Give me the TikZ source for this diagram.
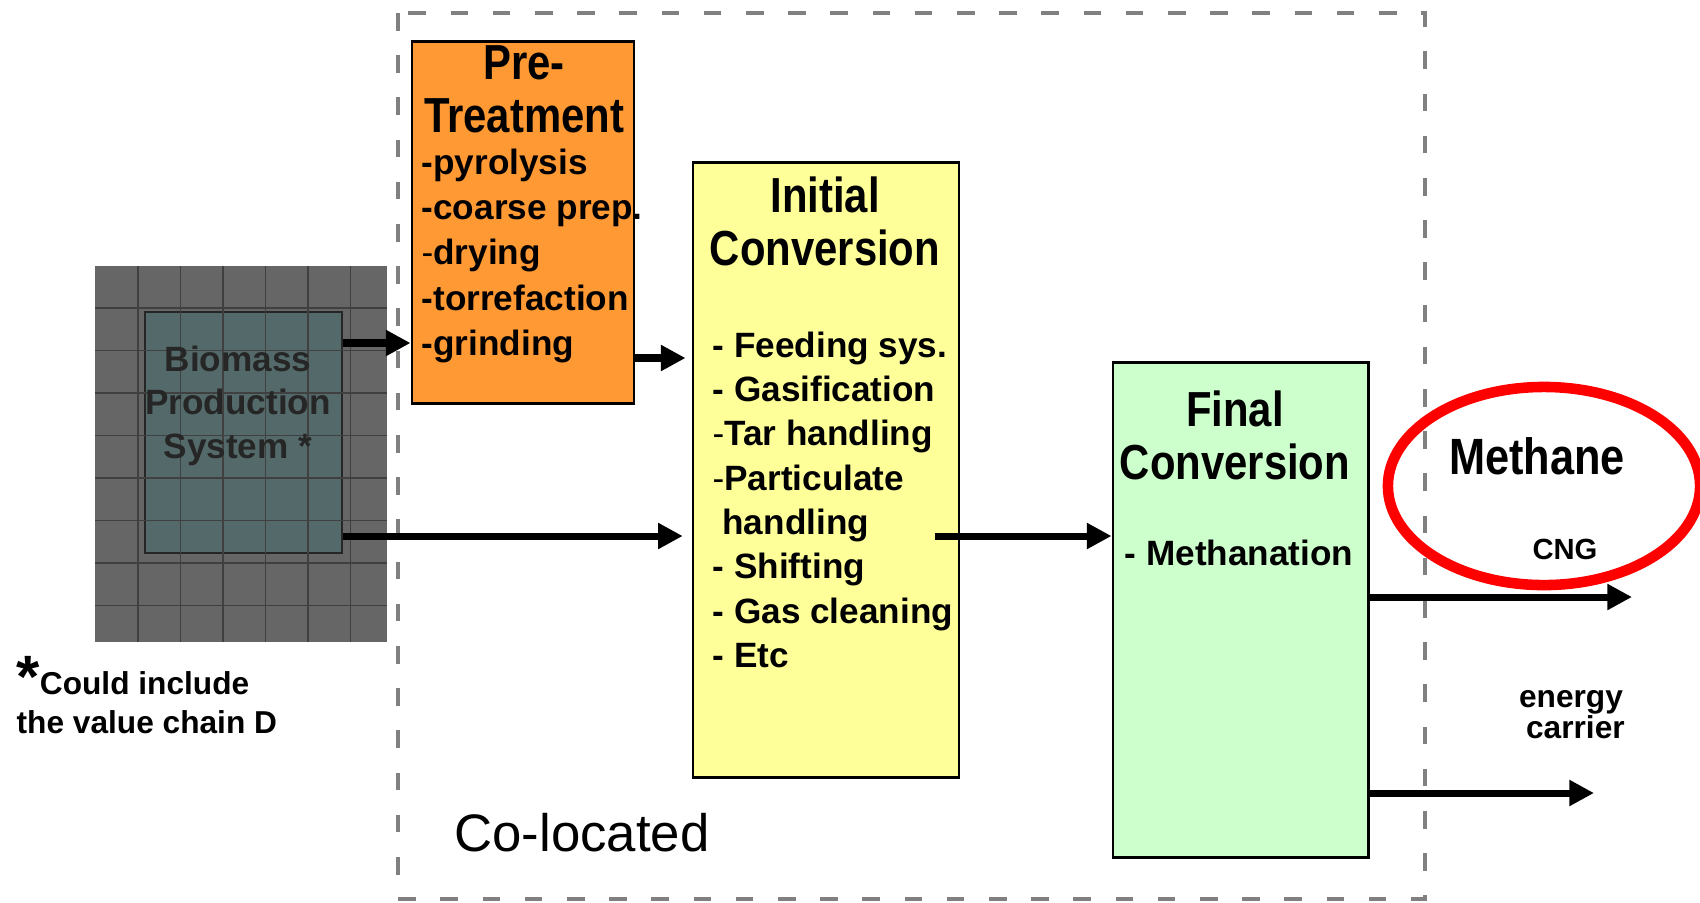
\documentclass[tikz,border=0pt]{standalone}
\usepackage{fontspec}
\setmainfont{Liberation Sans}
\newfontfamily\headfont{Liberation Sans}[FakeStretch=0.85]
\usetikzlibrary{arrows.meta,positioning}
\definecolor{preOrange}{HTML}{FF9933}
\definecolor{initYellow}{HTML}{FFFF99}
\definecolor{finGreen}{HTML}{CCFFCC}
\definecolor{bioTeal}{RGB}{84,106,106}
\definecolor{ringRed}{HTML}{FF0000}

\begin{document}
\begin{tikzpicture}[x=0.01cm, y=-0.01cm,
    stage/.style={draw, line width=0.8pt, inner sep=0},
    head/.style={anchor=north, inner sep=0, align=center, font=\headfont\bfseries\fontsize{14}{15}\selectfont},
    items/.style={anchor=north west, inner sep=0, align=left, font=\bfseries\fontsize{10}{12.6}\selectfont},
    flow/.style={line width=2pt, -{Triangle[length=7pt, width=7pt]}},
    gridline/.style={black!75, line width=0.5pt}]
    \useasboundingbox (0,0) rectangle (1700,902);

    % co-located site
    \draw[black!50, line width=0.9pt, dash pattern=on 5pt off 7pt] (398,13) rectangle (1425,899);
    \node[font=\fontsize{15}{18}\selectfont] (coloc) at (582,833) {Co-located};

    % biomass production
    \fill[black!60] (95,266) rectangle (387,642);
    \node[stage, fill=bioTeal, draw=black!85, line width=0.6pt, minimum width=1.97cm, minimum height=2.41cm] (bio) at (243.5,432.5) {};
    \foreach \gx in {138,180.5,...,387} \draw[gridline] (\gx,266) -- (\gx,642);
    \foreach \gy in {308,350.5,...,642} \draw[gridline] (95,\gy) -- (387,\gy);
    \node[inner sep=0, anchor=north, align=center, text=black!85, font=\bfseries\fontsize{10}{12.4}\selectfont] (bioText) at (238,345) {Biomass\\Production\\System *};

    % stages
    \node[stage, fill=preOrange, minimum width=2.22cm, minimum height=3.61cm] (pre) at (523,222.5) {};
    \node[stage, fill=initYellow, minimum width=2.66cm, minimum height=6.15cm] (init) at (826,470) {};
    \node[stage, fill=finGreen, minimum width=2.55cm, minimum height=4.94cm] (fin) at (1240.5,610) {};

    \node[head] (preHead) at (524,45) {Pre-\\Treatment};
    \node[items, font=\bfseries\fontsize{10}{12.9}\selectfont] (preList) at (421,148) {-pyrolysis\\-coarse prep.\\{\mdseries-}drying\\-torrefaction\\-grinding};
    \node[head] (initHead) at (825,176) {Initial\\Conversion};
    \node[items] (initList) at (712,331) {- Feeding sys.\\- Gasification\\{\mdseries-}Tar handling\\{\mdseries-}Particulate\\~handling\\- Shifting\\- Gas cleaning\\- Etc};
    \node[head] (finHead) at (1235,390) {Final\\Conversion};
    \node[items] (finList) at (1124,539) {- Methanation};

    % products
    \draw[ringRed, line width=3pt] (1544,486) ellipse [x radius=1.56cm, y radius=0.99cm];
    \node[font=\headfont\bfseries\fontsize{14.5}{16}\selectfont] (methane) at (1537,456) {Methane};
    \node[font=\bfseries\fontsize{8.3}{10}\selectfont] (cng) at (1565,549) {CNG};
    \node[inner sep=0, anchor=north, align=center, font=\bfseries\fontsize{9}{8.8}\selectfont] (carrier) at (1571,690) {energy\\~carrier};
    \coordinate (cngEnd) at (1632,597);
    \coordinate (carrierEnd) at (1594,793);
    \coordinate (initOut) at (935,536);

    % flows
    \draw[flow] (bio.east |- 0,343) -- (pre.west |- 0,343);
    \draw[flow, shorten >=1.7pt] (pre.east |- 0,358) -- (init.west |- 0,358);
    \draw[flow, shorten >=2.5pt] (bio.east |- 0,536) -- (init.west |- 0,536);
    \draw[flow] (initOut) -- (fin.west |- initOut);
    \draw[flow] (fin.east |- cngEnd) -- (cngEnd);
    \draw[flow] (fin.east |- carrierEnd) -- (carrierEnd);

    % footnote
    \node[items, font=\bfseries\fontsize{9}{11}\selectfont] (note) at (16,656) {\raisebox{-1pt}{\fontsize{17}{17}\selectfont *}Could include\\the value chain D};
\end{tikzpicture}
\end{document}
